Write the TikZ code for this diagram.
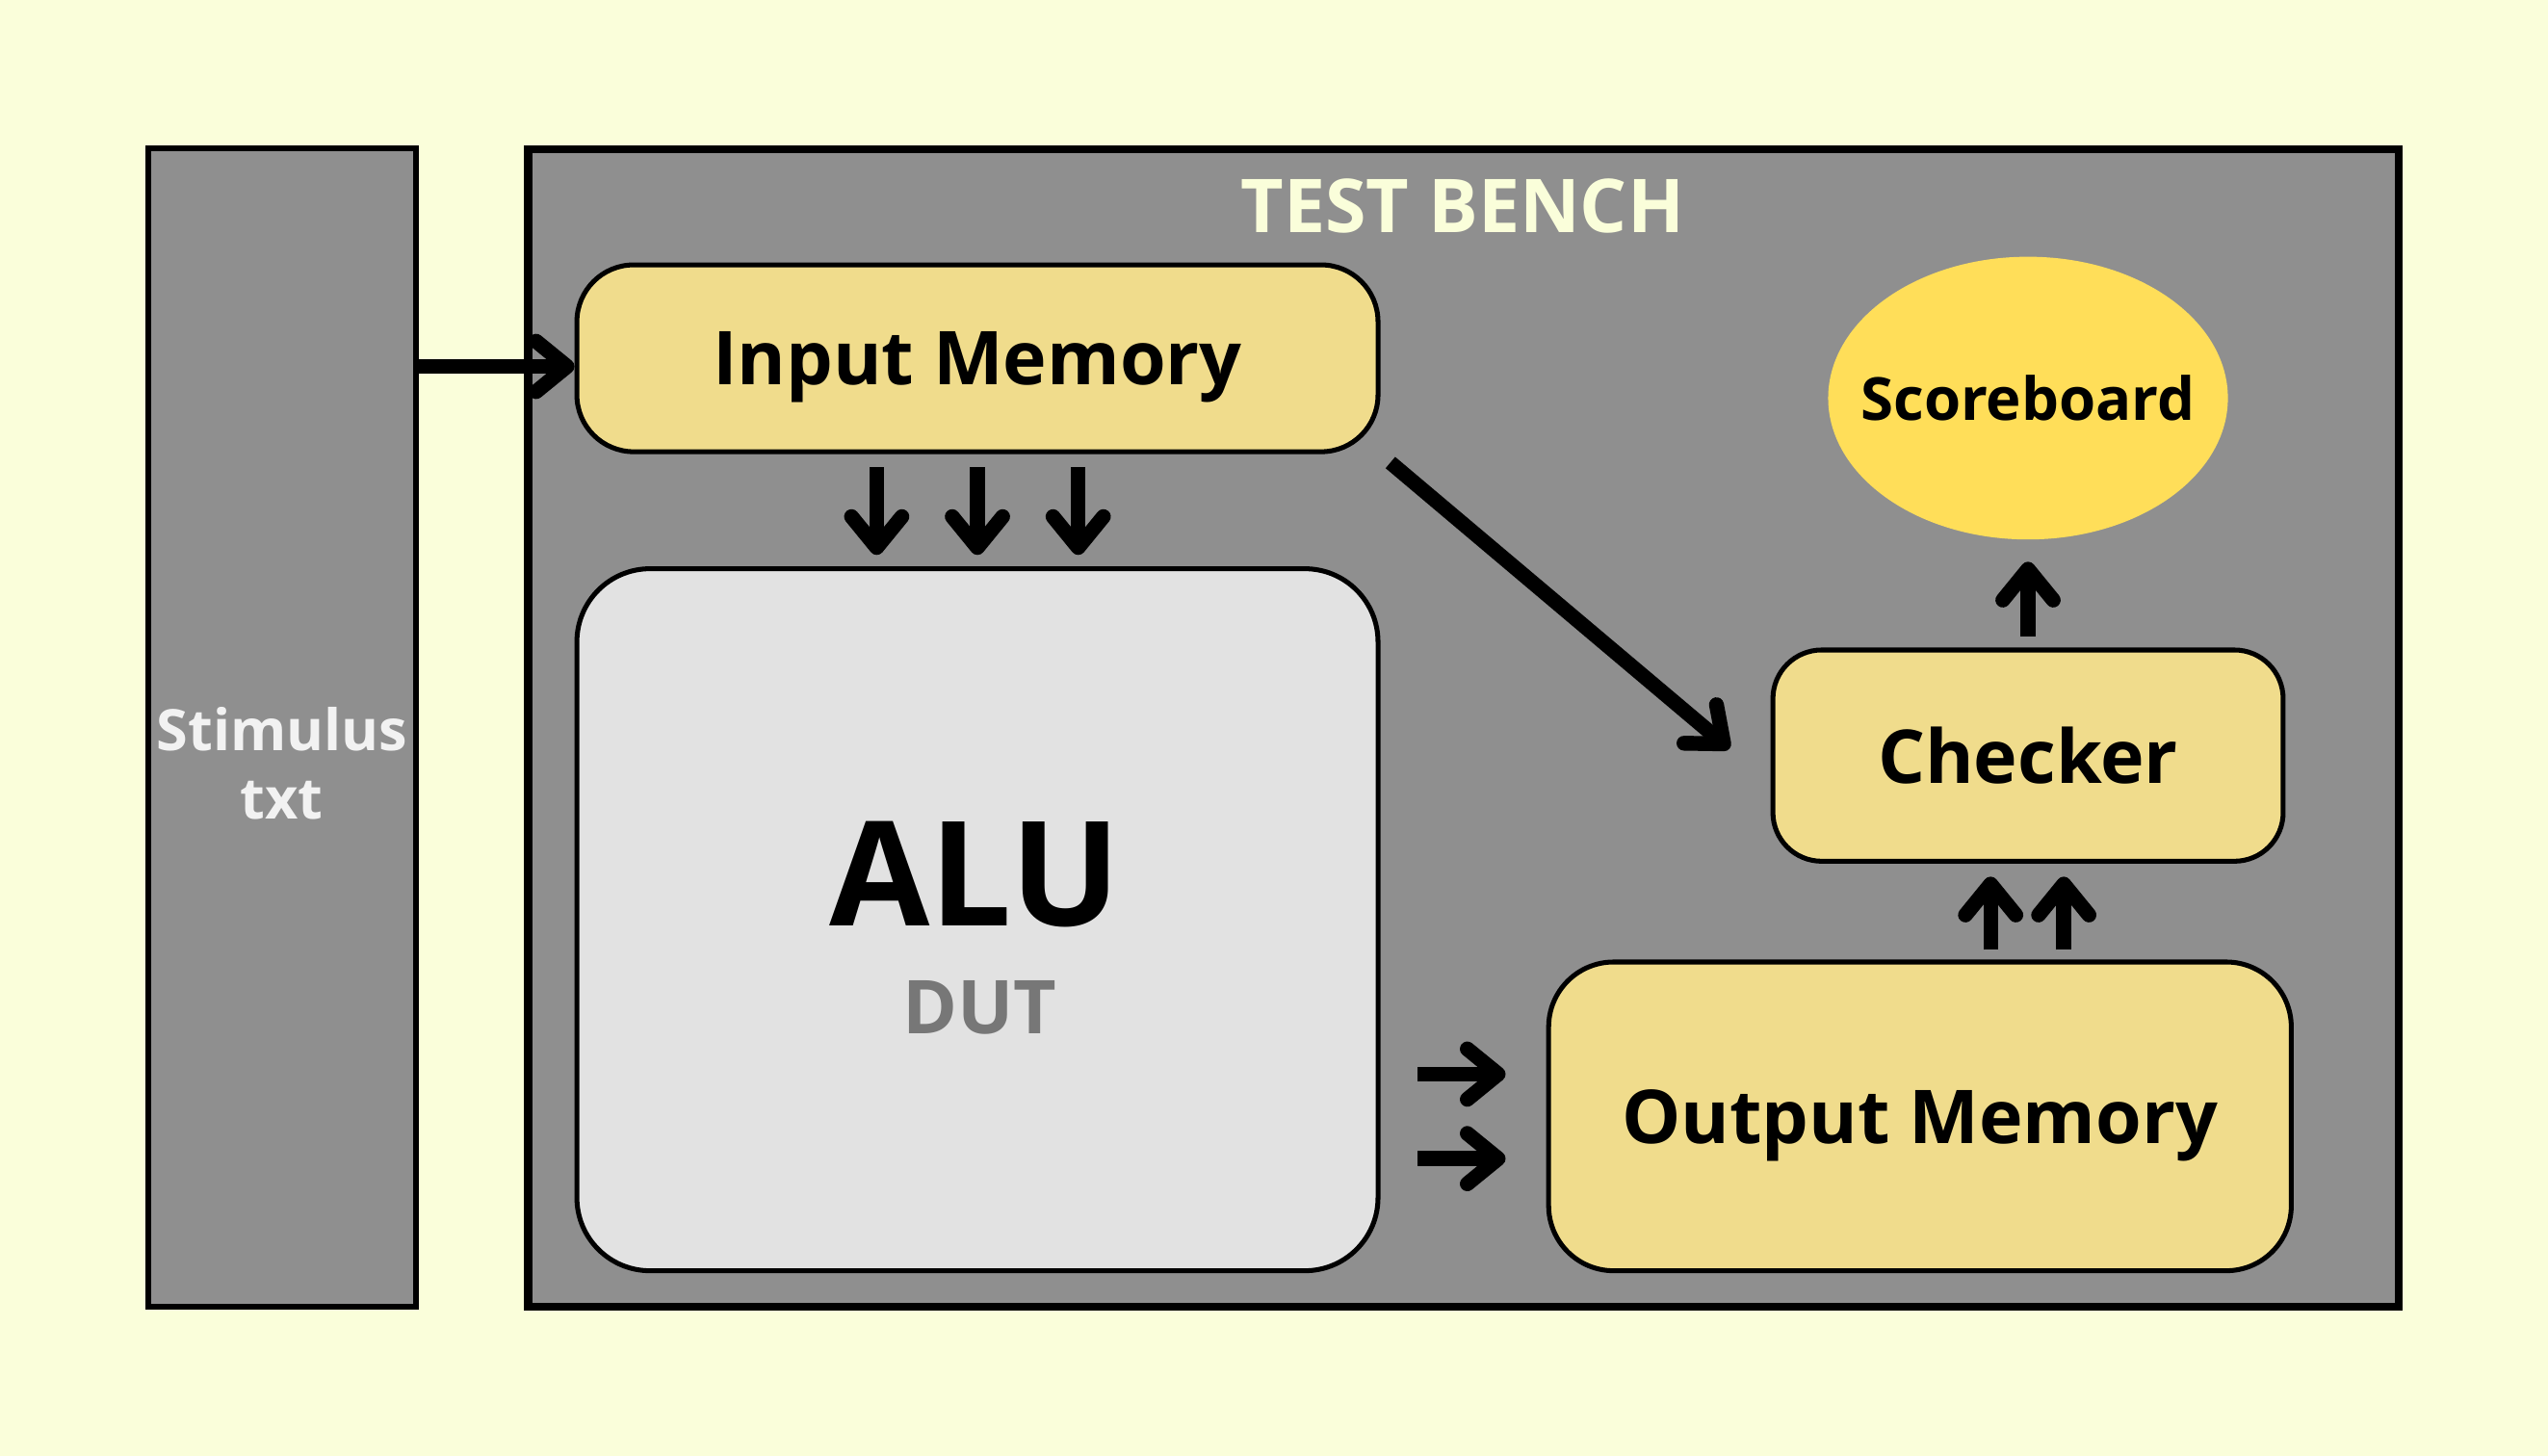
\documentclass[tikz,border=0pt]{standalone}
\usepackage{fontspec}
\setmainfont{Open Sans}
\usetikzlibrary{arrows.meta,calc,shapes.geometric}
\definecolor{bgcream}{RGB}{250,254,218}
\definecolor{benchgray}{RGB}{143,143,143}
\definecolor{memyellow}{RGB}{240,220,140}
\definecolor{alugray}{RGB}{226,226,226}
\definecolor{scoreyellow}{RGB}{255,222,89}
\definecolor{dutgray}{RGB}{119,119,119}
\definecolor{stimwhite}{RGB}{242,242,242}

\begin{document}
\begin{tikzpicture}[
    box/.style={draw=black, line width=0.85pt, fill=memyellow, inner sep=0pt, text depth=0pt, font=\fontsize{13}{15}\selectfont\bfseries},
    arr/.style={line width=2.6pt, -{Straight Barb[length=1.9mm, width=3.1mm, line cap=round, line join=round]}}
]

\fill [bgcream] (0,0) rectangle (15.68,-8.96);
\useasboundingbox (0,0) rectangle (15.68,-8.96);

\node [draw=black, line width=1pt, fill=benchgray, minimum width=1.65cm, minimum height=7.13cm, inner sep=0pt] (stim) at (1.735,-4.475) {};
\node [align=center, text=stimwhite, font=\fontsize{10}{12}\selectfont\bfseries] (stimtxt) at (1.735,-4.70) {Stimulus\\txt};

\node [draw=black, line width=1.4pt, fill=benchgray, minimum width=11.51cm, minimum height=7.12cm, inner sep=0pt] (bench) at (9.005,-4.48) {};
\node [text=bgcream, font=\fontsize{13}{15}\selectfont\bfseries] (benchtxt) at (9.0,-1.27) {TEST BENCH};

\node [box, rounded corners=0.35cm, minimum width=4.93cm, minimum height=1.15cm] (imem) at (6.015,-2.205) {Input Memory};

\node [box, fill=alugray, rounded corners=0.45cm, minimum width=4.93cm, minimum height=4.32cm] (alu) at (6.015,-5.66) {};
\node [font=\fontsize{25.5}{28}\selectfont\bfseries] (alutxt) at (6.0,-5.38) {ALU};
\node [text=dutgray, font=\fontsize{13}{15}\selectfont\bfseries] (duttxt) at (6.03,-6.20) {DUT};

\node [ellipse, fill=scoreyellow, minimum width=2.46cm, minimum height=1.74cm, inner sep=0pt,
    label={[font=\fontsize{10.4}{12}\selectfont\bfseries]center:Scoreboard}] (score) at (12.48,-2.45) {};

\node [box, rounded corners=0.3cm, minimum width=3.14cm, minimum height=1.30cm] (chk) at (12.48,-4.65) {Checker};

\node [box, rounded corners=0.4cm, minimum width=4.57cm, minimum height=1.90cm] (omem) at (11.815,-6.87) {Output Memory};

\draw [arr] (stim.east |- {$(imem.west)+(0,-0.05)$}) -- ($(imem.west)+(0,-0.05)$);
\foreach \dx in {-0.62,0,0.62} {
    \draw [arr, shorten <=0.08cm, shorten >=0.07cm] ([xshift=\dx cm]imem.south) -- ([xshift=\dx cm]alu.north);
}
\draw [arr, shorten <=0.08cm, shorten >=0.33cm] (imem.south east) -- ($(chk.west)+(0,-0.17)$);
\foreach \dy in {0.26,-0.26} {
    \draw [arr, shorten <=0.23cm, shorten >=0.25cm] ($(alu.east |- omem.west)+(0,\dy)$) -- ($(omem.west)+(0,\dy)$);
}
\foreach \dx in {-0.23,0.22} {
    \draw [arr, shorten <=0.06cm, shorten >=0.08cm] ($(chk.south |- omem.north)+(\dx,0)$) -- ($(chk.south)+(\dx,0)$);
}
\draw [arr, shorten <=0.07cm, shorten >=0.13cm] (chk.north) -- (score.south);

\end{tikzpicture}
\end{document}
